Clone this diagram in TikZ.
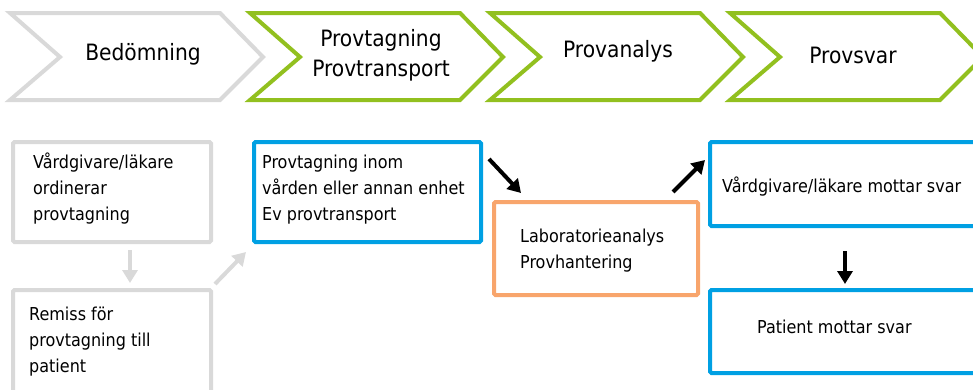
\documentclass[tikz,border=0pt]{standalone}
\usepackage{fontspec}
\setmainfont{DejaVu Sans Condensed}
\usetikzlibrary{arrows.meta}
\definecolor{cgray}{HTML}{D9D9D9}
\definecolor{cgreen}{HTML}{92C01F}
\definecolor{cblue}{HTML}{00A0E3}
\definecolor{corange}{HTML}{F8A56C}
\tikzset{
  chevline/.style={line width=4pt, line join=miter, fill=white},
  chevtext/.style={font=\fontsize{22.5}{30}\selectfont, align=center, inner sep=0pt},
  boxnode/.style={draw, line width=4pt, fill=white, inner sep=0pt, rectangle, rounded corners=1.5pt},
  boxtext/.style={font=\fontsize{17.8}{26}\selectfont, align=left, anchor=west, inner sep=0pt},
  arr/.style={line width=4pt, -{Triangle[length=13pt,width=15pt]}},
}
\newcommand\mychev[2]{%
  \draw[chevline, draw=#2] (#1,13) -- (#1+210,13) -- (#1+253,57) -- (#1+210,100) -- (#1,100) -- (#1+50,57) -- cycle;}
\begin{document}
\begin{tikzpicture}[x=1pt,y=-1pt]
\useasboundingbox (0,0) rectangle (973,389);
% chevrons
\mychev{10}{cgray}
\mychev{250}{cgreen}
\mychev{490}{cgreen}
\mychev{730}{cgreen}
\node[chevtext] (c1) at (143,54) {Bedömning};
\node[chevtext] (c2) at (381,55) {Provtagning\\Provtransport};
\node[chevtext] (c3) at (618,51) {Provanalys};
\node[chevtext] (c4) at (853,55) {Provsvar};
% boxes
\node[boxnode, draw=cgray, minimum width=198pt, minimum height=100pt] (A) at (112,192) {};
\node[boxnode, draw=cgray, minimum width=198pt, minimum height=130pt] (B) at (112,355) {};
\node[boxnode, draw=cblue, minimum width=227pt, minimum height=100pt] (C) at (367.5,192) {};
\node[boxnode, draw=corange, minimum width=204pt, minimum height=93pt] (D) at (596,248.5) {};
\node[boxnode, draw=cblue, minimum width=290pt, minimum height=84pt] (E) at (855,184) {};
\node[boxnode, draw=cblue, minimum width=290pt, minimum height=83pt] (F) at (855,331.5) {};
% texts
\node[boxtext] (tA) at (33,189) {Vårdgivare/läkare\\ordinerar\\provtagning};
\node[boxtext] (tB) at (29,342) {Remiss för\\provtagning till\\patient};
\node[boxtext] (tC) at (262,190) {Provtagning inom\\vården eller annan enhet\\Ev provtransport};
\node[boxtext] (tD) at (520,251) {Laboratorieanalys\\Provhantering};
\node[boxtext] (tE) at (722,187) {Vårdgivare/läkare mottar svar};
\node[boxtext] (tF) at (757,327) {Patient mottar svar};
% arrow end points
\coordinate (g1s) at (130,250); \coordinate (g1e) at (130,283);
\coordinate (g2s) at (215,284); \coordinate (g2e) at (246,252);
\coordinate (b1s) at (489,159); \coordinate (b1e) at (521,193);
\coordinate (b2s) at (673,192); \coordinate (b2e) at (705,160);
\coordinate (b3s) at (845,251); \coordinate (b3e) at (845,284);
\draw[arr, cgray] (g1s) -- (g1e);
\draw[arr, cgray] (g2s) -- (g2e);
\draw[arr, black] (b1s) -- (b1e);
\draw[arr, black] (b2s) -- (b2e);
\draw[arr, black] (b3s) -- (b3e);
\end{tikzpicture}
\end{document}
